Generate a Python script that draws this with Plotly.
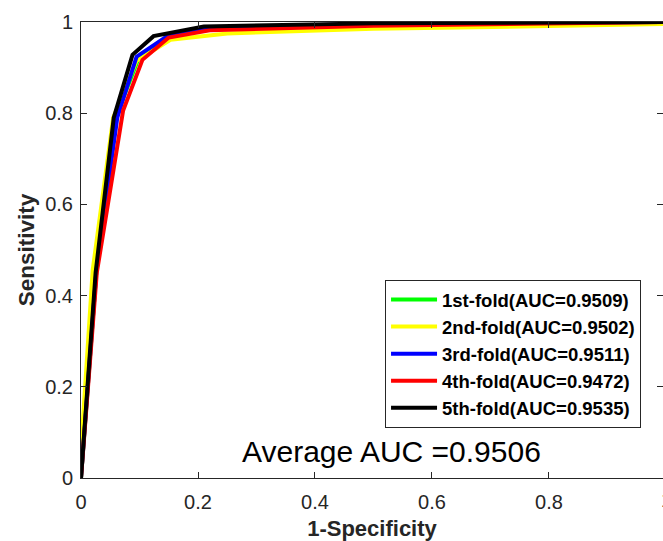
import plotly.graph_objects as go

# ---- data ----
fold_names = ["1st-fold(AUC=0.9509)", "2nd-fold(AUC=0.9502)", "3rd-fold(AUC=0.9511)",
              "4th-fold(AUC=0.9472)", "5th-fold(AUC=0.9535)"]
fold_colors = ["#00ff00", "#ffff00", "#0000ff", "#ff0000", "#000000"]

fpr_fold1 = [0, 0.026, 0.059, 0.098, 0.150, 0.220, 0.500, 1.0]
tpr_fold1 = [0, 0.450, 0.790, 0.919, 0.969, 0.986, 0.994, 1.0]

fpr_fold2 = [0, 0.001, 0.020, 0.055, 0.095, 0.153, 0.250, 0.500, 0.800, 1.0]
tpr_fold2 = [0, 0.080, 0.456, 0.790, 0.915, 0.961, 0.975, 0.985, 0.991, 0.996]

fpr_fold3 = [0, 0.026, 0.062, 0.095, 0.150, 0.220, 0.500, 1.0]
tpr_fold3 = [0, 0.450, 0.790, 0.924, 0.971, 0.988, 0.996, 1.0]

fpr_fold4 = [0, 0.027, 0.072, 0.105, 0.150, 0.220, 0.500, 1.0]
tpr_fold4 = [0, 0.450, 0.806, 0.917, 0.966, 0.982, 0.992, 1.0]

fpr_fold5 = [0, 0.025, 0.056, 0.088, 0.124, 0.210, 0.500, 1.0]
tpr_fold5 = [0, 0.450, 0.790, 0.928, 0.969, 0.990, 0.997, 1.0]

fpr_all = [fpr_fold1, fpr_fold2, fpr_fold3, fpr_fold4, fpr_fold5]
tpr_all = [tpr_fold1, tpr_fold2, tpr_fold3, tpr_fold4, tpr_fold5]

tick_vals = [0, 0.2, 0.4, 0.6, 0.8, 1.0]
tick_text = ["0", "0.2", "0.4", "0.6", "0.8", "1"]
average_text = "Average AUC =0.9506"

FONT = "Liberation Sans, Arial, Helvetica, sans-serif"
AX = "#262626"

fig = go.Figure()
for name, col, xs, ys in zip(fold_names, fold_colors, fpr_all, tpr_all):
    fig.add_trace(go.Scatter(x=xs, y=ys, mode="lines", name=name,
                             line=dict(color=col, width=4)))

fig.add_annotation(x=0.531, y=0.059, xref="x", yref="y", text=average_text,
                   showarrow=False, font=dict(family=FONT, size=30, color="#000000"),
                   xanchor="center", yanchor="middle")
# tick label "1" of the x axis, which lies at the very right edge (partly cut off)
fig.add_annotation(x=1.0052, y=-0.048, xref="paper", yref="paper", text=tick_text[-1],
                   showarrow=False, font=dict(family=FONT, size=20, color=AX),
                   xanchor="center", yanchor="middle")

fig.update_layout(
    width=663, height=541, autosize=False,
    margin=dict(l=81, r=0, t=22, b=63, pad=0),
    paper_bgcolor="white", plot_bgcolor="white",
    font=dict(family=FONT, color=AX),
    showlegend=True,
    legend=dict(x=0.5224, y=0.4342, xanchor="left", yanchor="top",
                bgcolor="white", bordercolor=AX, borderwidth=1,
                itemwidth=46,
                font=dict(family=FONT, size=18.5, color="#000000", weight=700),
                traceorder="normal"),
    xaxis=dict(range=[0, 0.9949], tickvals=tick_vals[:-1], ticktext=tick_text[:-1],
               ticks="inside", ticklen=6, tickcolor=AX, tickwidth=1,
               showline=True, linecolor=AX, linewidth=1, mirror="ticks",
               showgrid=False, zeroline=False, automargin=False,
               tickfont=dict(family=FONT, size=20, color=AX),
               ticklabelstandoff=6,
               title=dict(text="1-Specificity", standoff=11,
                          font=dict(family=FONT, size=22, color=AX, weight=700))),
    yaxis=dict(range=[0, 1], tickvals=tick_vals, ticktext=tick_text,
               ticks="inside", ticklen=6, tickcolor=AX, tickwidth=1,
               showline=True, linecolor=AX, linewidth=1, mirror="ticks",
               showgrid=False, zeroline=False, automargin=False,
               tickfont=dict(family=FONT, size=20, color=AX),
               ticklabelstandoff=3,
               title=dict(text="Sensitivity", standoff=4,
                          font=dict(family=FONT, size=22.5, color=AX, weight=700))),
)

# remove the default 8px page margin so the figure fills the window exactly
fig.write_html("out.html",
               config={"displayModeBar": False},
               post_script="document.body.style.margin='0px';"
                           "document.body.style.overflow='hidden';")
